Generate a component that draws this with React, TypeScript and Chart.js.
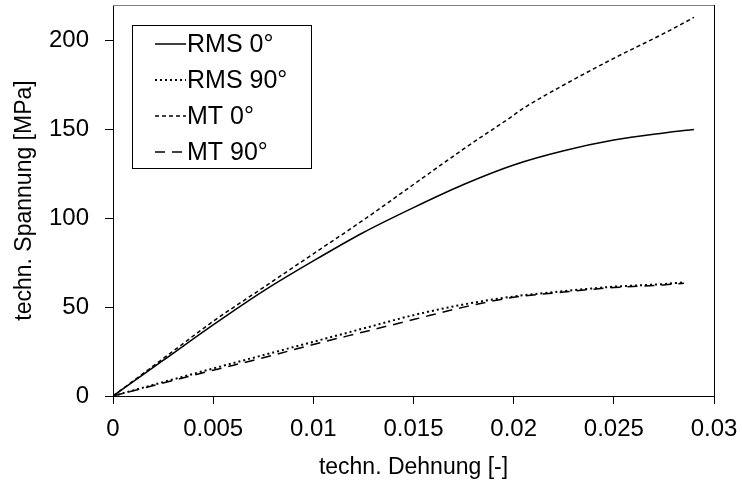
import React, { useEffect, useRef } from "react";
import { Chart, registerables } from "chart.js";

Chart.register(...registerables);

// Strain values [-] and stress values [MPa] per series
const rms0Strain = [0, 0.0025, 0.005, 0.0075, 0.01, 0.0125, 0.015, 0.0175, 0.02, 0.0225, 0.025, 0.0275, 0.029];
const rms0Stress = [0, 20, 40, 59, 76, 92, 106, 119, 130, 138, 144, 148, 150];

const rms90Strain = [0, 0.0025, 0.005, 0.0075, 0.01, 0.0125, 0.015, 0.0175, 0.02, 0.0225, 0.025, 0.0275, 0.0285];
const rms90Stress = [0, 7.8, 15.5, 23, 30.5, 38, 45.5, 51.5, 56, 59, 61.5, 63, 64];

const mt0Strain = [0, 0.0025, 0.005, 0.0075, 0.01, 0.0125, 0.015, 0.0175, 0.02, 0.0205, 0.0225, 0.025, 0.0275, 0.029];
const mt0Stress = [0, 21, 42, 61, 80, 99, 119, 139, 158, 162, 175, 190, 204, 213];

const mt90Strain = [0, 0.0025, 0.005, 0.0075, 0.01, 0.0125, 0.015, 0.0175, 0.02, 0.0225, 0.025, 0.0275, 0.0285];
const mt90Stress = [0, 7.3, 14.5, 21.5, 29, 36, 43, 50, 55.5, 58.5, 61, 62.5, 63.5];

const seriesLabels = ["RMS 0°", "RMS 90°", "MT 0°", "MT 90°"];

const xTickValues = [0, 0.005, 0.01, 0.015, 0.02, 0.025, 0.03];
const xTickLabels = ["0", "0.005", "0.01", "0.015", "0.02", "0.025", "0.03"];
const yTickValues = [0, 50, 100, 150, 200];
const yTickLabels = ["0", "50", "100", "150", "200"];

const FONT = "Arial, 'Liberation Sans', Helvetica, sans-serif";

const toPoints = (xs: number[], ys: number[]) => xs.map((x, i) => ({ x, y: ys[i] }));

const framePlugin = {
  id: "frame",
  afterDatasetsDraw(chart: any) {
    const { ctx, chartArea } = chart;
    ctx.save();
    ctx.lineWidth = 1;
    ctx.strokeStyle = "#808080";
    ctx.beginPath();
    ctx.moveTo(chartArea.left, Math.round(chartArea.top) + 0.5);
    ctx.lineTo(chartArea.right, Math.round(chartArea.top) + 0.5);
    ctx.stroke();
    ctx.strokeStyle = "#000";
    ctx.beginPath();
    ctx.moveTo(Math.round(chartArea.right) + 0.5, chartArea.top);
    ctx.lineTo(Math.round(chartArea.right) + 0.5, chartArea.bottom);
    ctx.stroke();
    ctx.restore();
  },
};

const legendPlugin = {
  id: "boxLegend",
  afterDatasetsDraw(chart: any) {
    const { ctx, chartArea } = chart;
    const x0 = Math.round(chartArea.left) + 19;
    const y0 = Math.round(chartArea.top) + 20;
    const w = 179;
    const h = 143;
    ctx.save();
    ctx.fillStyle = "#fff";
    ctx.fillRect(x0, y0, w, h);
    ctx.strokeStyle = "#000";
    ctx.lineWidth = 1;
    ctx.strokeRect(x0 + 0.5, y0 + 0.5, w, h);
    chart.data.datasets.forEach((ds: any, i: number) => {
      const cy = y0 + 19 + i * 36;
      ctx.setLineDash(ds.borderDash || []);
      ctx.lineWidth = ds.borderWidth;
      ctx.strokeStyle = ds.borderColor;
      ctx.beginPath();
      ctx.moveTo(x0 + 23, cy);
      ctx.lineTo(x0 + 54, cy);
      ctx.stroke();
      ctx.setLineDash([]);
      ctx.fillStyle = "#000";
      ctx.font = `25px ${FONT}`;
      ctx.textBaseline = "middle";
      ctx.textAlign = "left";
      ctx.fillText(ds.label, x0 + 55, cy + 1);
    });
    ctx.restore();
  },
};

export default function App() {
  const canvasRef = useRef<HTMLCanvasElement | null>(null);

  useEffect(() => {
    if (!canvasRef.current) return;
    const common = {
      borderColor: "#000",
      backgroundColor: "#000",
      pointRadius: 0,
      fill: false,
      cubicInterpolationMode: "monotone" as const,
      borderCapStyle: "butt" as const,
    };
    const chart = new Chart(canvasRef.current, {
      type: "line",
      data: {
        datasets: [
          { ...common, label: seriesLabels[0], data: toPoints(rms0Strain, rms0Stress), borderWidth: 1.5, borderDash: [] },
          { ...common, label: seriesLabels[1], data: toPoints(rms90Strain, rms90Stress), borderWidth: 2, borderDash: [2, 3] },
          { ...common, label: seriesLabels[2], data: toPoints(mt0Strain, mt0Stress), borderWidth: 1.5, borderDash: [4, 3] },
          { ...common, label: seriesLabels[3], data: toPoints(mt90Strain, mt90Stress), borderWidth: 1.5, borderDash: [10, 7] },
        ],
      },
      options: {
        responsive: false,
        devicePixelRatio: 1,
        animation: false,
        layout: { padding: { top: 5, right: 28, left: 0, bottom: 0 } },
        plugins: {
          legend: { display: false },
          tooltip: { enabled: false },
        },
        scales: {
          x: {
            type: "linear",
            min: 0,
            max: 0.03,
            afterBuildTicks: (scale: any) => {
              scale.ticks = xTickValues.map((v) => ({ value: v }));
            },
            afterFit: (scale: any) => {
              scale.height = 90;
              scale.paddingLeft = 0;
              scale.paddingRight = 0;
            },
            ticks: {
              color: "#000",
              font: { family: FONT, size: 24 },
              padding: 11,
              maxRotation: 0,
              autoSkip: false,
              callback: (_v: any, i: number) => xTickLabels[i],
            },
            grid: { display: true, drawOnChartArea: false, drawTicks: true, tickLength: 8, color: "#000" },
            border: { display: true, color: "#000", width: 1 },
            title: {
              display: true,
              text: "techn. Dehnung [-]",
              color: "#000",
              font: { family: FONT, size: 23 },
              padding: { top: 0, bottom: 5 },
            },
          },
          y: {
            type: "linear",
            min: 0,
            max: 220,
            afterBuildTicks: (scale: any) => {
              scale.ticks = yTickValues.map((v) => ({ value: v }));
            },
            afterFit: (scale: any) => {
              scale.width = 113;
              scale.paddingTop = 0;
              scale.paddingBottom = 0;
            },
            ticks: {
              color: "#000",
              font: { family: FONT, size: 24 },
              padding: 16,
              autoSkip: false,
              callback: (_v: any, i: number) => yTickLabels[i],
            },
            grid: { display: true, drawOnChartArea: false, drawTicks: true, tickLength: 8, color: "#000" },
            border: { display: true, color: "#000", width: 1 },
            title: {
              display: true,
              text: "techn. Spannung [MPa]",
              color: "#000",
              font: { family: FONT, size: 23 },
              padding: { top: 11, bottom: 0 },
            },
          },
        },
      },
      plugins: [framePlugin, legendPlugin],
    });
    return () => chart.destroy();
  }, []);

  return (
    <div style={{ position: "absolute", left: 0, top: 0, width: 742, height: 486, background: "#fff" }}>
      <canvas ref={canvasRef} width={742} height={486} style={{ display: "block" }} />
    </div>
  );
}
